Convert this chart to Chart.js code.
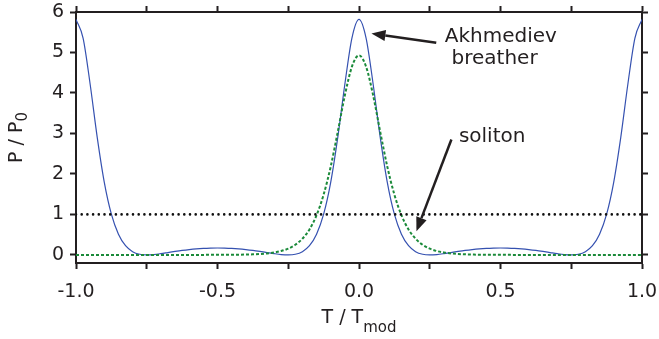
<!DOCTYPE html>
<html>
<head>
<meta charset="utf-8">
<script src="https://cdn.jsdelivr.net/npm/chart.js@4.4.1/dist/chart.umd.min.js"></script>
<style>
  html, body { margin: 0; padding: 0; background: #fff; }
  #myChart { display: block; }
</style>
</head>
<body>
<canvas id="myChart" width="659" height="339" style="width:659px;height:339px"></canvas>
<script>
'use strict';

// time axis, T / Tmod
const times = [
  -1, -0.975, -0.95, -0.925, -0.9, -0.875, -0.85, -0.825, -0.8, -0.775,
  -0.75, -0.725, -0.7, -0.675, -0.65, -0.625, -0.6, -0.575, -0.55, -0.525,
  -0.5, -0.475, -0.45, -0.425, -0.4, -0.375, -0.35, -0.325, -0.3, -0.275,
  -0.25, -0.225, -0.2, -0.175, -0.15, -0.125, -0.1, -0.075, -0.05, -0.025,
  0,
  0.025, 0.05, 0.075, 0.1, 0.125, 0.15, 0.175, 0.2, 0.225, 0.25,
  0.275, 0.3, 0.325, 0.35, 0.375, 0.4, 0.425, 0.45, 0.475, 0.5,
  0.525, 0.55, 0.575, 0.6, 0.625, 0.65, 0.675, 0.7, 0.725, 0.75,
  0.775, 0.8, 0.825, 0.85, 0.875, 0.9, 0.925, 0.95, 0.975, 1
];

// Akhmediev breather, P / P0
const breather = [
  5.818, 5.356, 4.216, 2.905, 1.794, 1.007, 0.511, 0.227, 0.080, 0.016,
  0.000, 0.009, 0.031, 0.058, 0.085, 0.110, 0.131, 0.148, 0.160, 0.167,
  0.170, 0.167, 0.160, 0.148, 0.131, 0.110, 0.085, 0.058, 0.031, 0.009,
  0.000, 0.016, 0.080, 0.227, 0.511, 1.007, 1.794, 2.905, 4.216, 5.356,
  5.818,
  5.356, 4.216, 2.905, 1.794, 1.007, 0.511, 0.227, 0.080, 0.016, 0.000,
  0.009, 0.031, 0.058, 0.085, 0.110, 0.131, 0.148, 0.160, 0.167, 0.170,
  0.167, 0.160, 0.148, 0.131, 0.110, 0.085, 0.058, 0.031, 0.009, 0.000,
  0.016, 0.080, 0.227, 0.511, 1.007, 1.794, 2.905, 4.216, 5.356, 5.818
];

// soliton, P / P0
const soliton = [
  0, 0, 0, 0, 0, 0, 0, 0, 0, 0,
  0, 0, 0, 0, 0, 0, 0, 0, 0.0005, 0.001,
  0.001, 0.002, 0.003, 0.005, 0.009, 0.014, 0.023, 0.037, 0.060, 0.096,
  0.155, 0.25, 0.40, 0.63, 0.98, 1.49, 2.18, 3.04, 3.94, 4.65,
  4.93,
  4.65, 3.94, 3.04, 2.18, 1.49, 0.98, 0.63, 0.40, 0.25, 0.155,
  0.096, 0.060, 0.037, 0.023, 0.014, 0.009, 0.005, 0.003, 0.002, 0.001,
  0.001, 0.0005, 0, 0, 0, 0, 0, 0, 0, 0,
  0, 0, 0, 0, 0, 0, 0, 0, 0, 0
];

// continuous-wave background level
const cwTimes = [-1, 1];
const cwLevel = [1, 1];

const xTickMarks = [-1, -0.75, -0.5, -0.25, 0, 0.25, 0.5, 0.75, 1];
const xTicks = [-1.0, -0.5, 0.0, 0.5, 1.0];
const yTicks = [0, 1, 2, 3, 4, 5, 6];

// text labels and arrows, in data units
const labels = [
  { text: 'Akhmediev', x: 0.303, y: 5.26 },
  { text: 'breather', x: 0.327, y: 4.72 },
  { text: 'soliton', x: 0.353, y: 2.79 }
];
const arrows = [
  { fromX: 0.273, fromY: 5.24, toX: 0.044, toY: 5.47 },
  { fromX: 0.3265, fromY: 2.85, toX: 0.203, toY: 0.584 }
];

const ink = '#231f20';
const tickFont = { family: 'DejaVu Sans', size: 19 };

function toPoints(xs, ys) {
  return xs.map((x, i) => ({ x: x, y: ys[i] }));
}

const annotationPlugin = {
  id: 'annotations',
  afterDraw(chart) {
    const ctx = chart.ctx;
    const xs = chart.scales.x;
    const ys = chart.scales.y;
    ctx.save();
    ctx.fillStyle = ink;
    ctx.strokeStyle = ink;

    ctx.font = '20px "DejaVu Sans"';
    ctx.textAlign = 'left';
    ctx.textBaseline = 'alphabetic';
    labels.forEach(l => {
      ctx.fillText(l.text, xs.getPixelForValue(l.x), ys.getPixelForValue(l.y));
    });

    arrows.forEach(a => {
      const x1 = xs.getPixelForValue(a.fromX);
      const y1 = ys.getPixelForValue(a.fromY);
      const x2 = xs.getPixelForValue(a.toX);
      const y2 = ys.getPixelForValue(a.toY);
      const ang = Math.atan2(y2 - y1, x2 - x1);
      const headLen = 14;
      const headW = 5.5;
      const bx = x2 - headLen * Math.cos(ang);
      const by = y2 - headLen * Math.sin(ang);
      ctx.lineWidth = 2.5;
      ctx.beginPath();
      ctx.moveTo(x1, y1);
      ctx.lineTo(bx, by);
      ctx.stroke();
      ctx.beginPath();
      ctx.moveTo(x2, y2);
      ctx.lineTo(bx + headW * Math.sin(ang), by - headW * Math.cos(ang));
      ctx.lineTo(bx - headW * Math.sin(ang), by + headW * Math.cos(ang));
      ctx.closePath();
      ctx.fill();
    });

    // x axis title: T / Tmod
    const cx = (chart.chartArea.left + chart.chartArea.right) / 2;
    ctx.font = '19px "DejaVu Sans"';
    const main = 'T / T';
    const wMain = ctx.measureText(main).width;
    ctx.font = '15px "DejaVu Sans"';
    const wSub = ctx.measureText('mod').width;
    let start = cx - (wMain + wSub) / 2;
    ctx.font = '19px "DejaVu Sans"';
    ctx.fillText(main, start, 323);
    ctx.font = '15px "DejaVu Sans"';
    ctx.fillText('mod', start + wMain, 332);

    // y axis title: P / P0
    const cy = (chart.chartArea.top + chart.chartArea.bottom) / 2;
    ctx.translate(22, cy);
    ctx.rotate(-Math.PI / 2);
    ctx.font = '19px "DejaVu Sans"';
    const yMain = 'P / P';
    const wy = ctx.measureText(yMain).width;
    ctx.font = '15px "DejaVu Sans"';
    const wy0 = ctx.measureText('0').width;
    start = -(wy + wy0) / 2;
    ctx.font = '19px "DejaVu Sans"';
    ctx.fillText(yMain, start, 0);
    ctx.font = '15px "DejaVu Sans"';
    ctx.fillText('0', start + wy, 5);
    ctx.restore();
  }
};

function boxGrid() {
  return {
    drawOnChartArea: false,
    drawTicks: true,
    tickLength: 6,
    tickWidth: 2,
    color: ink
  };
}

function fixX(height) {
  return (s) => {
    s.height = height;
    s.paddingLeft = 0;
    s.paddingRight = 0;
  };
}
function fixY(width) {
  return (s) => {
    s.width = width;
    s.paddingTop = 0;
    s.paddingBottom = 0;
  };
}
const setXTicks = (s) => { s.ticks = xTickMarks.map(v => ({ value: v })); };
const setYTicks = (s) => { s.ticks = yTicks.map(v => ({ value: v })); };

new Chart(document.getElementById('myChart'), {
  type: 'scatter',
  data: {
    datasets: [{
      label: 'cw',
      data: toPoints(cwTimes, cwLevel),
      showLine: true,
      borderColor: '#111111',
      borderWidth: 2.6,
      borderDash: [0, 5.7],
      borderCapStyle: 'round',
      pointRadius: 0
    }, {
      label: 'soliton',
      data: toPoints(times, soliton),
      showLine: true,
      borderColor: '#1b8a3a',
      borderWidth: 2,
      borderDash: [3, 2],
      cubicInterpolationMode: 'monotone',
      pointRadius: 0
    }, {
      label: 'Akhmediev breather',
      data: toPoints(times, breather),
      showLine: true,
      borderColor: '#3551b0',
      borderWidth: 1.2,
      cubicInterpolationMode: 'monotone',
      pointRadius: 0
    }]
  },
  options: {
    responsive: false,
    animation: false,
    layout: { padding: 0 },
    plugins: {
      legend: { display: false },
      tooltip: { enabled: false }
    },
    scales: {
      x: {
        type: 'linear',
        position: 'bottom',
        min: -1,
        max: 1,
        grid: boxGrid(),
        border: { display: true, width: 2, color: ink },
        afterBuildTicks: setXTicks,
        ticks: {
          padding: 12,
          color: ink,
          font: tickFont,
          maxRotation: 0,
          autoSkip: false,
          callback: (v) => {
            const hit = xTicks.find(t => Math.abs(t - v) < 1e-6);
            return hit === undefined ? '' : hit.toFixed(1);
          }
        },
        afterFit: fixX(76)
      },
      x2: {
        type: 'linear',
        position: 'top',
        min: -1,
        max: 1,
        grid: boxGrid(),
        border: { display: true, width: 2, color: ink },
        afterBuildTicks: setXTicks,
        ticks: { display: false },
        afterFit: fixX(12)
      },
      y: {
        type: 'linear',
        position: 'left',
        min: -0.2,
        max: 6,
        grid: boxGrid(),
        border: { display: true, width: 2, color: ink },
        afterBuildTicks: setYTicks,
        ticks: {
          padding: 6,
          color: ink,
          font: tickFont,
          autoSkip: false,
          callback: (v) => String(v)
        },
        afterFit: fixY(76)
      },
      y2: {
        type: 'linear',
        position: 'right',
        min: -0.2,
        max: 6,
        grid: boxGrid(),
        border: { display: true, width: 2, color: ink },
        afterBuildTicks: setYTicks,
        ticks: { display: false },
        afterFit: fixY(17)
      }
    }
  },
  plugins: [annotationPlugin]
});
</script>
</body>
</html>
